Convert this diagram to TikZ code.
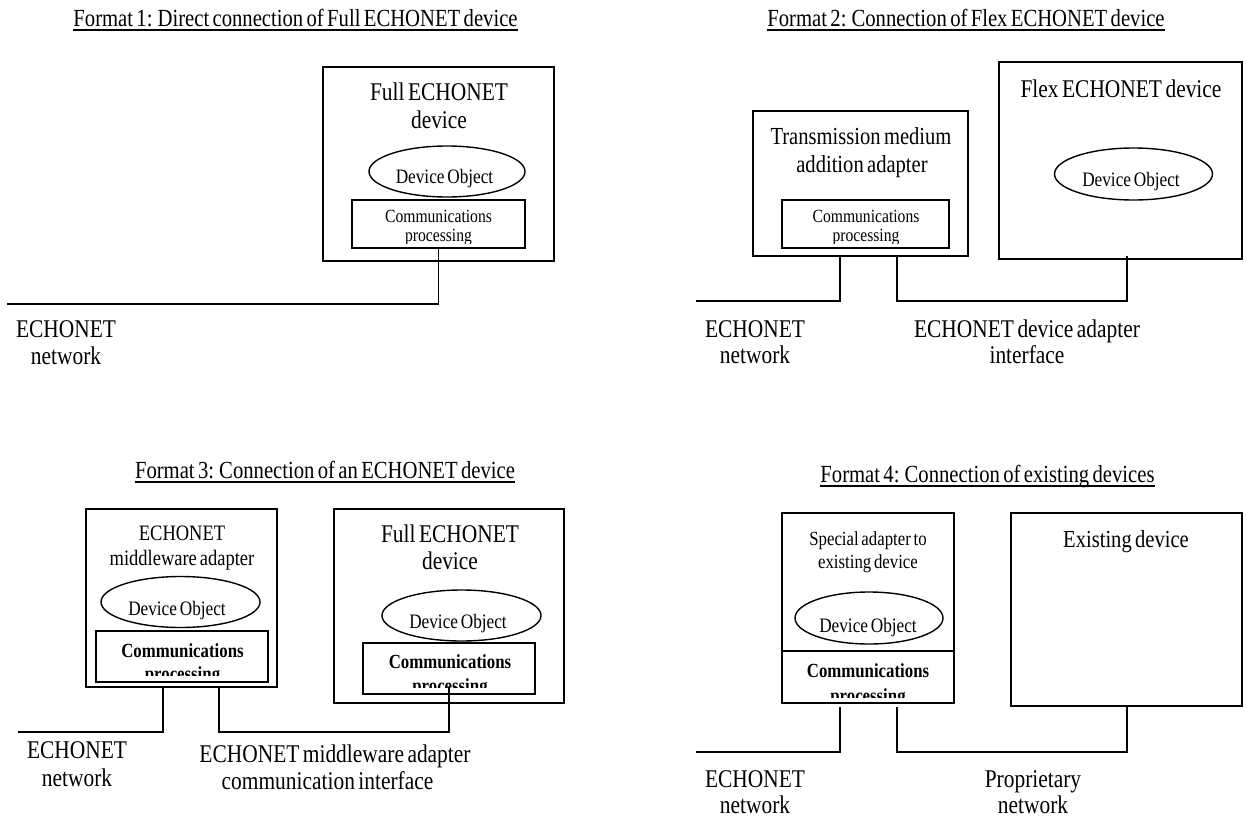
\documentclass[tikz,border=0pt]{standalone}
\usepackage{fontspec}
\setmainfont{Liberation Serif}[FakeStretch=0.84,WordSpace=0.65]
\usetikzlibrary{shapes.geometric,calc}
\begin{document}
\begin{tikzpicture}[x=1pt,y=-1pt,
  box/.style={draw, line width=1.8pt, inner sep=0pt, outer sep=0pt},
  oval/.style={draw, ellipse, line width=1.4pt, inner sep=0pt, outer sep=0pt},
  wire/.style={line width=1.9pt},
  txt/.style={inner sep=0pt, anchor=base},
  ttl/.style={txt, font=\fontsize{24.6}{28}\selectfont},
  lab/.style={txt, font=\fontsize{25.5}{28}\selectfont},
  labm/.style={txt, font=\fontsize{24.5}{28}\selectfont},
  mid/.style={txt, font=\fontsize{22}{24}\selectfont},
  spc/.style={txt, font=\fontsize{20}{22}\selectfont},
  obj/.style={txt, font=\fontsize{20.5}{22}\selectfont},
  com/.style={txt, font=\fontsize{18.6}{20}\selectfont},
  comb/.style={txt, font=\bfseries\fontsize{20}{22}\selectfont},
  uline/.style={line width=1.3pt}
]
\useasboundingbox (0,0) rectangle (1247,819);

% ================= Format 1 =================
\node[ttl] (t1) at (295.5,26) {Format 1: Direct connection of Full ECHONET device};
\draw[uline] ([yshift=-4pt]t1.base west) -- ([yshift=-4pt]t1.base east);
\node[box, minimum width=231pt, minimum height=194pt] (box1) at (438.5,164) {};
\node[lab] (f1a) at (439,100) {Full ECHONET};
\node[lab] (f1b) at (439,128) {device};
\node[oval, minimum width=156pt, minimum height=51pt] (ell1) at (447,171.5) {};
\node[obj] (do1) at (444.5,183) {Device Object};
\node[box, minimum width=173pt, minimum height=48pt] (comm1) at (438.5,224) {};
\node[com] (c1a) at (438.5,222) {Communications};
\begin{scope}
  \clip (352,200) rectangle (525,243);
  \node[com] (c1b) at (438.5,241.5) {processing};
\end{scope}
\coordinate (net1) at (7,304);
\draw[wire] (comm1.south) |- (net1);
\node[lab] (n1a) at (66,337) {ECHONET};
\node[lab] (n1b) at (66,364) {network};

% ================= Format 2 =================
\node[ttl] (t2) at (966,26) {Format 2: Connection of Flex ECHONET device};
\draw[uline] ([yshift=-4pt]t2.base west) -- ([yshift=-4pt]t2.base east);
\node[box, minimum width=215pt, minimum height=145pt] (adapt2) at (860.5,183.5) {};
\node[labm] (a2a) at (861,144) {Transmission medium};
\node[labm] (a2b) at (862,172) {addition adapter};
\node[box, minimum width=167pt, minimum height=48pt] (comm2) at (865.5,224) {};
\node[com] (c2a) at (866,222) {Communications};
\begin{scope}
  \clip (782,200) rectangle (949,243);
  \node[com] (c2b) at (866,241.5) {processing};
\end{scope}
\node[box, minimum width=243pt, minimum height=197pt] (flex2) at (1120.5,160.5) {};
\node[lab] (fx2) at (1121,97) {Flex ECHONET device};
\node[oval, minimum width=158pt, minimum height=52pt] (ell2) at (1133.5,174) {};
\node[obj] (do2) at (1131,186) {Device Object};
\coordinate (j2a) at (840,300.7);
\coordinate (net2) at (696,300.7);
\draw[wire] (adapt2.south -| j2a) -- (j2a) -- (net2);
\coordinate (j2b) at (897,300.7);
\coordinate (k2) at (1127,300.7);
\draw[wire] (adapt2.south -| j2b) -- (j2b) -- (k2) -- ([yshift=3pt]flex2.south -| k2);
\node[lab] (n2a) at (755,337) {ECHONET};
\node[lab] (n2b) at (755,363) {network};
\node[lab] (i2a) at (1027,337) {ECHONET device adapter};
\node[lab] (i2b) at (1027,363) {interface};

% ================= Format 3 =================
\node[ttl] (t3) at (325,478) {Format 3: Connection of an ECHONET device};
\draw[uline] ([yshift=-4pt]t3.base west) -- ([yshift=-4pt]t3.base east);
\node[box, minimum width=191pt, minimum height=178pt] (box3a) at (181.5,598) {};
\node[mid] (m3a) at (182,540) {ECHONET};
\node[mid] (m3b) at (182,565) {middleware adapter};
\node[oval, minimum width=159pt, minimum height=51pt] (ell3a) at (180.5,602) {};
\node[obj] (do3a) at (177,615) {Device Object};
\node[box, minimum width=172pt, minimum height=51pt] (comm3a) at (182,656.5) {};
\node[comb] (c3a) at (182.5,657) {Communications};
\begin{scope}
  \clip (96,631) rectangle (268,675);
  \node[comb] (c3b) at (182.5,680) {processing};
\end{scope}
\node[box, minimum width=230pt, minimum height=194pt] (box3b) at (449,606) {};
\node[lab] (f3a) at (450,542) {Full ECHONET};
\node[lab] (f3b) at (450,569) {device};
\node[oval, minimum width=159pt, minimum height=51pt] (ell3b) at (461.5,615.5) {};
\node[obj] (do3b) at (458,628) {Device Object};
\node[box, minimum width=172pt, minimum height=51pt] (comm3b) at (449,668.5) {};
\node[comb] (c3c) at (450,668) {Communications};
\begin{scope}
  \clip (363,643) rectangle (535,687);
  \node[comb] (c3d) at (450,692) {processing};
\end{scope}
\coordinate (j3a) at (163,732);
\coordinate (net3) at (18,732);
\draw[wire] (box3a.south -| j3a) -- (j3a) -- (net3);
\coordinate (j3b) at (219,732);
\coordinate (k3) at (449,732);
\coordinate (e3) at (449,687);
\draw[wire] (box3a.south -| j3b) -- (j3b) -- (k3) -- (e3);
\node[lab] (n3a) at (77,758) {ECHONET};
\node[lab] (n3b) at (77,786) {network};
\node[lab] (i3a) at (335,762) {ECHONET middleware adapter};
\node[lab] (i3b) at (327.5,789) {communication interface};

% ================= Format 4 =================
\node[ttl] (t4) at (987.5,482) {Format 4: Connection of existing devices};
\draw[uline] ([yshift=-4pt]t4.base west) -- ([yshift=-4pt]t4.base east);
\node[box, minimum width=172pt, minimum height=190pt] (box4) at (868,608) {};
\node[spc] (s4a) at (868,545) {Special adapter to};
\node[spc] (s4b) at (868,568) {existing device};
\node[oval, minimum width=148pt, minimum height=52pt] (ell4) at (869,618) {};
\node[obj] (do4) at (868,632) {Device Object};
\node[box, minimum width=172pt, minimum height=52pt] (comm4) at (868,677) {};
\node[comb] (c4a) at (868,677) {Communications};
\begin{scope}
  \clip (782,651) rectangle (954,697);
  \node[comb] (c4b) at (868,702) {processing};
\end{scope}
\node[box, minimum width=231pt, minimum height=193pt] (exist4) at (1126.5,609.5) {};
\node[labm] (ex4) at (1126,547) {Existing device};
\coordinate (j4a) at (840,752);
\coordinate (net4) at (696,752);
\draw[wire, shorten <=4pt] (box4.south -| j4a) -- (j4a) -- (net4);
\coordinate (j4b) at (897,752);
\coordinate (k4) at (1127,752);
\draw[wire, shorten <=4pt] (box4.south -| j4b) -- (j4b) -- (k4) -- (exist4.south -| k4);
\node[lab] (n4a) at (755,787) {ECHONET};
\node[lab] (n4b) at (755,813) {network};
\node[lab] (p4a) at (1033,787) {Proprietary};
\node[lab] (p4b) at (1033,813) {network};
\end{tikzpicture}
\end{document}
